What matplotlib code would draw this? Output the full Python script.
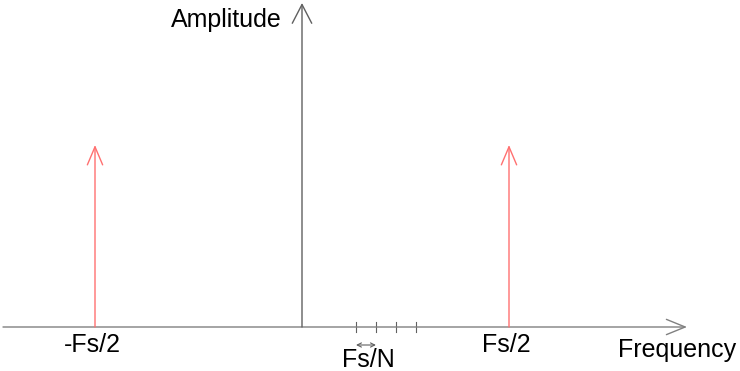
import matplotlib
matplotlib.use("Agg")
import matplotlib.pyplot as plt

# Data (frequency in units of Fs/2, amplitude normalized)
tone_freqs = [-1.0, 1.0]
tone_amps = [1.0, 1.0]
tone_labels = ["-Fs/2", "Fs/2"]
bin_ticks = [0.261, 0.357, 0.454, 0.551]
bin_label = "Fs/N"
x_label = "Frequency"
y_label = "Amplitude"

W, H = 740, 371
sx, sy = 207.0, 182.0
x0, y0 = 302.0, 327.0

def px(x):
    return (x - x0) / sx

def py(y):
    return (y0 - y) / sy

plt.rcParams["font.family"] = ["Liberation Sans", "DejaVu Sans"]

fig = plt.figure(figsize=(W / 100, H / 100), dpi=100)
ax = fig.add_axes([0, 0, 1, 1])
ax.set_xlim(px(0), px(W))
ax.set_ylim(py(H), py(0))
ax.axis("off")

axis_col = "#808080"
fs = 18

# x-axis
ax.annotate("", xy=(px(687), 0), xytext=(px(3), 0),
            arrowprops=dict(arrowstyle="->,head_length=1.35,head_width=0.55",
                            color=axis_col, lw=1.0, shrinkA=0, shrinkB=0))
# y-axis
ax.annotate("", xy=(0, py(3)), xytext=(0, 0),
            arrowprops=dict(arrowstyle="->,head_length=1.35,head_width=0.7",
                            color="#606060", lw=1.0, shrinkA=0, shrinkB=0))

# tones
for f, a, lab in zip(tone_freqs, tone_amps, tone_labels):
    ax.annotate("", xy=(f, a), xytext=(f, 0),
                arrowprops=dict(arrowstyle="->,head_length=1.3,head_width=0.55",
                                color="#ff7070", lw=1.0, shrinkA=0, shrinkB=0))
    ax.text(f - 3 / sx, py(352), lab, ha="center", va="baseline",
            fontsize=fs, color="black")

# bin ticks
for t in bin_ticks:
    ax.plot([t, t], [5 / sy, -5 / sy], color="#606060", lw=0.8)

# Fs/N spacing arrow
ax.annotate("", xy=(bin_ticks[0], py(345)), xytext=(bin_ticks[1], py(345)),
            arrowprops=dict(arrowstyle="<->,head_length=0.3,head_width=0.15",
                            color="#606060", lw=0.8, shrinkA=0, shrinkB=0))
ax.text(px(368), py(367), bin_label, ha="center", va="baseline",
        fontsize=fs, color="black")

ax.text(px(677), py(357), x_label, ha="center", va="baseline", fontsize=fs)
ax.text(px(226), py(27), y_label, ha="center", va="baseline", fontsize=fs)

fig.savefig("out.png", dpi=100, facecolor="white")
